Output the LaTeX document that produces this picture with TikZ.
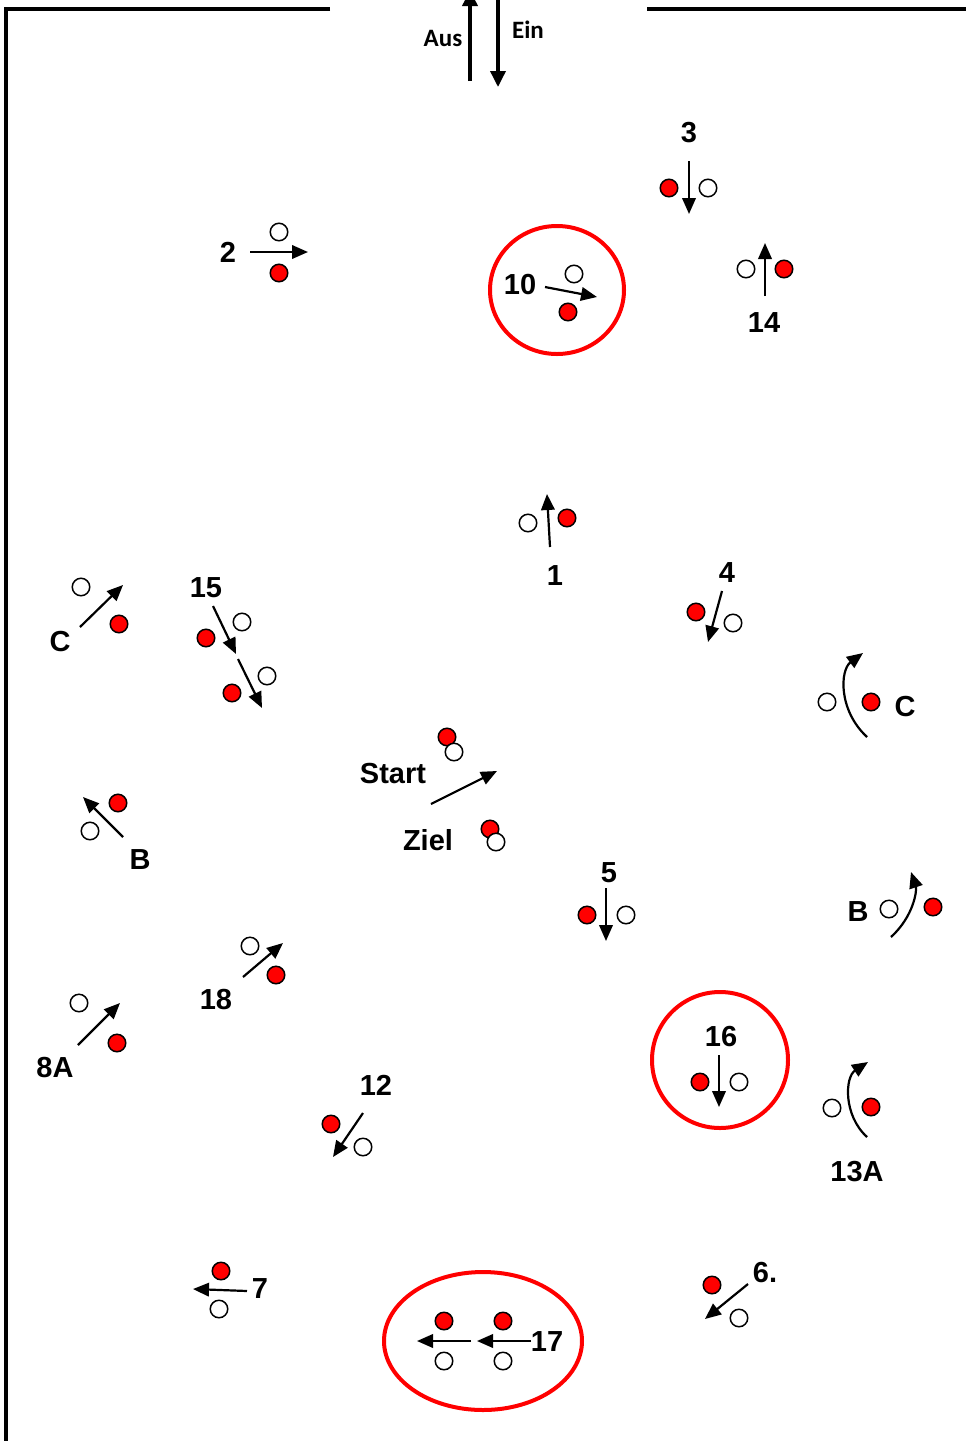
\documentclass[tikz,border=0pt]{standalone}
\usepackage{fontspec}
\setmainfont{Liberation Sans}
\newfontfamily\calfont{Carlito}
\usetikzlibrary{arrows.meta}

\begin{document}
\begin{tikzpicture}[x=1pt, y=-1pt,
  rd/.style={circle, draw, fill=red, line width=1.5pt, minimum size=17.5pt, inner sep=0pt},
  wt/.style={circle, draw, fill=white, line width=1.5pt, minimum size=17.5pt, inner sep=0pt},
  mv/.style={-{Triangle[length=16pt,width=13.5pt]}, line width=2.2pt},
  lbl/.style={inner sep=0pt, font=\bfseries\fontsize{29}{34}\selectfont},
  ring/.style={draw=red, line width=4pt}]
  \useasboundingbox (0,0) rectangle (966,1441);
  % hall
  \draw[line width=3.5pt] (330,9) -- (6,9) -- (6,1445);
  \draw[line width=3.5pt] (647,9) -- (970,9);
  \draw[-{Triangle[length=16pt,width=15pt]}, line width=3.5pt] (470,81) -- (470,-10);
  \draw[-{Triangle[length=16pt,width=15pt]}, line width=3.5pt] (498,-5) -- (498,87);
  \node[inner sep=0pt, font=\calfont\bfseries\fontsize{25}{30}\selectfont] (aus) at (443,38) {Aus};
  \node[inner sep=0pt, font=\calfont\bfseries\fontsize{25}{30}\selectfont] (ein) at (528,30) {Ein};
  % marked stations
  \draw[ring] (557,290) ellipse [x radius=67, y radius=64];
  \draw[ring] (720,1060) circle [radius=68];
  \draw[ring] (483,1341) ellipse [x radius=99, y radius=69];
  % 1
  \node[wt] (w1) at (528,523) {}; \node[rd] (r1) at (567,518) {};
  \draw[mv] (550,547) -- (547,494); \node[lbl] (l1) at (555,576) {1};
  % 2
  \node[wt] (w2) at (279,232) {}; \node[rd] (r2) at (279,273) {};
  \draw[mv] (250,252) -- (308,252); \node[lbl] (l2) at (228,252) {2};
  % 3
  \node[rd] (r3) at (669,188) {}; \node[wt] (w3) at (708,188) {};
  \draw[mv] (689,161) -- (689,214); \node[lbl] (l3) at (689,133) {3};
  % 4
  \node[rd] (r4) at (696,612) {}; \node[wt] (w4) at (733,623) {};
  \draw[mv] (722,591) -- (708,642); \node[lbl] (l4) at (727,573) {4};
  % 5
  \node[rd] (r5) at (587,915) {}; \node[wt] (w5) at (626,915) {};
  \draw[mv] (606,888) -- (606,941); \node[lbl] (l5) at (609,873) {5};
  % 6.
  \node[rd] (r6) at (712,1285) {}; \node[wt] (w6) at (739,1318) {};
  \draw[mv] (748,1284) -- (705,1319); \node[lbl] (l6) at (765,1272) {6.};
  % 7
  \node[rd] (r7) at (221,1271) {}; \node[wt] (w7) at (219,1309) {};
  \draw[mv] (247,1291) -- (193,1289); \node[lbl] (l7) at (260,1289) {7};
  % 8A
  \node[wt] (w8) at (79,1003) {}; \node[rd] (r8) at (117,1043) {};
  \draw[mv] (78,1045) -- (120,1003); \node[lbl] (l8) at (55,1068) {8A};
  % 10
  \node[wt] (w10) at (574,274) {}; \node[rd] (r10) at (568,312) {};
  \draw[mv] (545,287) -- (597,297); \node[lbl] (l10) at (520,285) {10};
  % 12
  \node[rd] (r12) at (331,1124) {}; \node[wt] (w12) at (363,1147) {};
  \draw[mv] (363,1113) -- (333,1157); \node[lbl] (l12) at (376,1085) {12};
  % 13A
  \node[wt] (w13) at (832,1108) {}; \node[rd] (r13) at (871,1107) {};
  \draw[mv] (867,1137) .. controls (843,1115) and (845,1077) .. (868,1062);
  \node[lbl] (l13) at (857,1172) {13A};
  % 14
  \node[wt] (w14) at (746,269) {}; \node[rd] (r14) at (784,269) {};
  \draw[mv] (765,296) -- (765,243); \node[lbl] (l14) at (764,323) {14};
  % 15
  \node[rd] (r15a) at (206,638) {}; \node[wt] (w15a) at (242,622) {};
  \draw[mv] (213,606) -- (236,654);
  \node[rd] (r15b) at (232,693) {}; \node[wt] (w15b) at (267,676) {};
  \draw[mv] (238,659) -- (262,708); \node[lbl] (l15) at (206,588) {15};
  % 16
  \node[rd] (r16) at (700,1082) {}; \node[wt] (w16) at (739,1082) {};
  \draw[mv] (719,1055) -- (719,1107); \node[lbl] (l16) at (721,1037) {16};
  % 17
  \node[rd] (r17a) at (444,1321) {}; \node[wt] (w17a) at (444,1361) {};
  \draw[mv] (471,1341) -- (417,1341);
  \node[rd] (r17b) at (503,1321) {}; \node[wt] (w17b) at (503,1361) {};
  \draw[mv] (531,1341) -- (477,1341); \node[lbl] (l17) at (547,1342) {17};
  % 18
  \node[wt] (w18) at (250,946) {}; \node[rd] (r18) at (276,975) {};
  \draw[mv] (243,977) -- (283,943); \node[lbl] (l18) at (216,1000) {18};
  % B and C
  \node[rd] (rbl) at (118,803) {}; \node[wt] (wbl) at (90,831) {};
  \draw[mv] (123,837) -- (83,797); \node[lbl] (lbl) at (140,860) {B};
  \node[wt] (wcl) at (81,587) {}; \node[rd] (rcl) at (119,624) {};
  \draw[mv] (80,627) -- (123,585); \node[lbl] (lcl) at (60,642) {C};
  \node[wt] (wbr) at (889,909) {}; \node[rd] (rbr) at (933,907) {};
  \draw[mv] (891,937) .. controls (914,916) and (917,890) .. (911,872);
  \node[lbl] (lbr) at (858,912) {B};
  \node[wt] (wcr) at (827,702) {}; \node[rd] (rcr) at (871,702) {};
  \draw[mv] (867,737) .. controls (838,710) and (840,670) .. (863,653);
  \node[lbl] (lcr) at (905,707) {C};
  % start and finish
  \node[rd] (rs) at (447,737) {}; \node[wt] (ws) at (454,752) {};
  \draw[mv] (431,804) -- (497,771); \node[lbl] (ls) at (393,774) {Start};
  \node[rd] (rz) at (490,829) {}; \node[wt] (wz) at (496,842) {};
  \node[lbl] (lz) at (428,840) {Ziel};
\end{tikzpicture}
\end{document}
